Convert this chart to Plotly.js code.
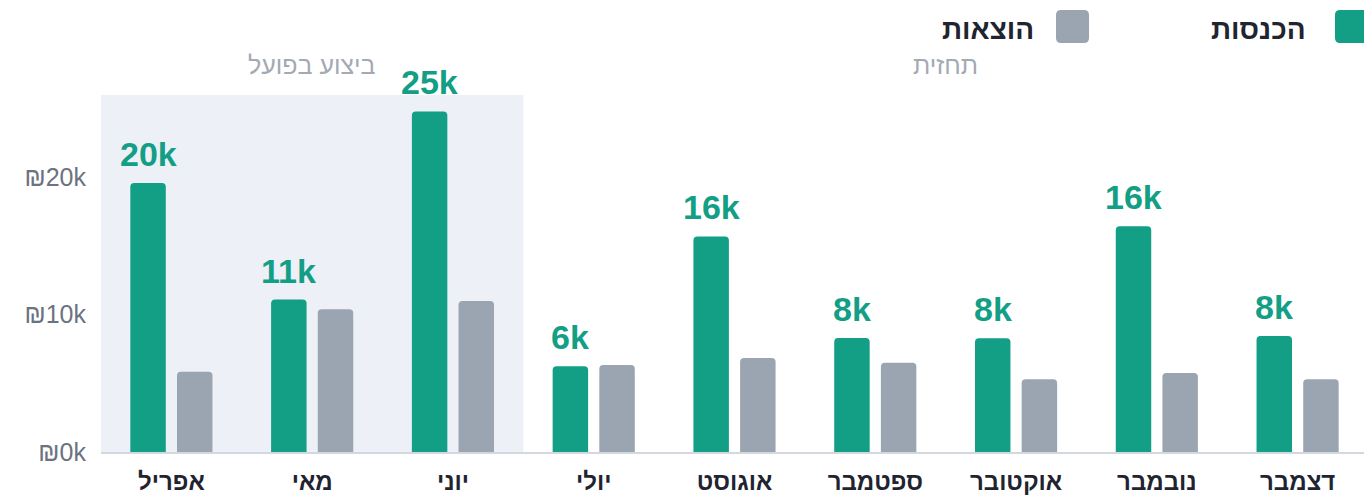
<!DOCTYPE html>
<html lang="he">
<head>
<meta charset="utf-8">
<script src="https://cdn.plot.ly/plotly-3.0.1.min.js"></script>
<style>
  html, body { margin: 0; padding: 0; background: #ffffff; }
  #chart { width: 1364px; height: 495px; }
</style>
</head>
<body>
<div id="chart"></div>
<script>
// ---- data ----
const months = ["אפריל", "מאי", "יוני", "יולי", "אוגוסט", "ספטמבר", "אוקטובר", "נובמבר", "דצמבר"];
const income = [19600, 11100, 24800, 6250, 15700, 8300, 8280, 16450, 8450];
const expenses = [5850, 10400, 11000, 6340, 6850, 6500, 5300, 5750, 5300];
const seriesNames = ["הכנסות", "הוצאות"];
const yTickVals = [0, 10000, 20000];
const yTickText = ["₪0k", "₪10k", "₪20k"];
const periodLabels = ["ביצוע בפועל", "תחזית"];

// ---- style ----
const GREEN = "#139e86";
const GRAY = "#9aa5b1";
const SHADE = "#edf0f6";
const FONT = "Liberation Sans, Arial, sans-serif";

const L = 101, T = 95, PW = 1263, PH = 357;
const px2paperX = p => (p - L) / PW;
const px2paperY = p => 1 + (T - p) / PH;

const traces = [
  {
    type: "bar", name: seriesNames[0], x: months, y: income,
    marker: { color: GREEN, cornerradius: 4 }, hoverinfo: "skip"
  },
  {
    type: "bar", name: seriesNames[1], x: months, y: expenses,
    marker: { color: GRAY, cornerradius: 4 }, hoverinfo: "skip"
  }
];

const annotations = [];
income.forEach((v, i) => {
  annotations.push({
    x: months[i], y: v, xref: "x", yref: "y",
    text: Math.round(v / 1000) + "k", showarrow: false,
    xshift: -23.3, yshift: 8, yanchor: "bottom", xanchor: "center",
    font: { family: FONT, size: 34, color: GREEN, weight: 700 }
  });
});
annotations.push({
  x: 1, y: px2paperY(65), xref: "x", yref: "paper", text: periodLabels[0],
  showarrow: false, yanchor: "middle", font: { family: FONT, size: 25, color: "#a3aab4" }
});
annotations.push({
  x: 5.5, y: px2paperY(65), xref: "x", yref: "paper", text: periodLabels[1],
  showarrow: false, yanchor: "middle", font: { family: FONT, size: 25, color: "#a3aab4" }
});
// legend text (RTL: swatch on the right)
annotations.push({
  x: px2paperX(1308), y: px2paperY(29), xref: "paper", yref: "paper", text: seriesNames[0],
  showarrow: false, xanchor: "right", yanchor: "middle",
  font: { family: FONT, size: 28, color: "#1f2430", weight: 700 }
});
annotations.push({
  x: px2paperX(1036), y: px2paperY(29), xref: "paper", yref: "paper", text: seriesNames[1],
  showarrow: false, xanchor: "right", yanchor: "middle",
  font: { family: FONT, size: 28, color: "#1f2430", weight: 700 }
});

function roundRectPath(x0, y0, x1, y1, r, color) {
  const X = px2paperX, Y = px2paperY;
  const rx = r / PW, ry = r / PH;
  const a = X(x0), b = X(x1), top = Y(y0), bot = Y(y1);
  const path = `M ${a + rx},${top} L ${b - rx},${top} Q ${b},${top} ${b},${top - ry} ` +
    `L ${b},${bot + ry} Q ${b},${bot} ${b - rx},${bot} L ${a + rx},${bot} Q ${a},${bot} ${a},${bot + ry} ` +
    `L ${a},${top - ry} Q ${a},${top} ${a + rx},${top} Z`;
  return { type: "path", xref: "paper", yref: "paper", path: path, fillcolor: color, line: { width: 0 } };
}

const shapes = [
  {
    type: "rect", xref: "x", yref: "paper", x0: -0.5, x1: 2.5, y0: 0, y1: 1,
    fillcolor: SHADE, line: { width: 0 }, layer: "below"
  },
  roundRectPath(1335, 10, 1370, 43, 5, GREEN),
  roundRectPath(1056, 10, 1089, 43, 5, GRAY)
];

const layout = {
  width: 1364, height: 495,
  margin: { l: L, r: 0, t: T, b: 495 - T - PH, pad: 0 },
  paper_bgcolor: "#ffffff", plot_bgcolor: "rgba(0,0,0,0)",
  barmode: "group", bargap: 0.337, bargroupgap: 0.24,
  showlegend: false,
  font: { family: FONT },
  xaxis: {
    type: "category", range: [-0.5, 8.5 - 4 / 140.8],
    showgrid: false, zeroline: false,
    showline: true, linecolor: "#d3d7de", linewidth: 2,
    ticks: "", ticklabelstandoff: 7,
    tickfont: { family: FONT, size: 24, color: "#1f2430", weight: 700 }
  },
  yaxis: {
    range: [0, 26000], showgrid: false, zeroline: false, showline: false,
    tickvals: yTickVals, ticktext: yTickText, ticks: "", ticklabelstandoff: 14,
    tickfont: { family: FONT, size: 25, color: "#6b7280" }
  },
  annotations: annotations,
  shapes: shapes
};

Plotly.newPlot("chart", traces, layout, { displayModeBar: false, staticPlot: true });
</script>
</body>
</html>
